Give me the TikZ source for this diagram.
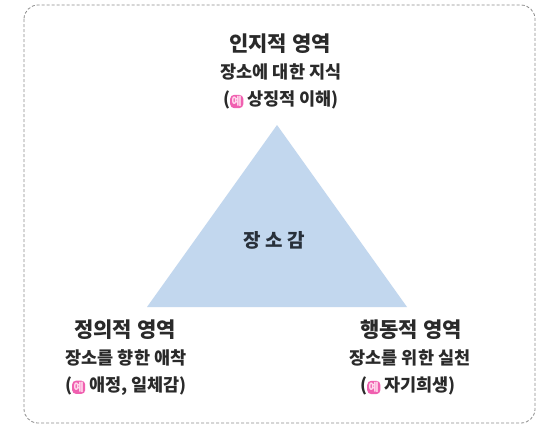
\documentclass[tikz,border=0pt]{standalone}
\usepackage{fontspec}
\setmainfont{Noto Sans CJK KR}
\definecolor{txt}{HTML}{2A2A2A}
\definecolor{coretxt}{HTML}{28303A}
\definecolor{tri}{HTML}{C2D7EE}
\definecolor{pinkb}{HTML}{F060B0}
\definecolor{pinkt}{HTML}{FFD8EC}
\definecolor{bord}{HTML}{8C8C8C}
\tikzset{
  title/.style={text=txt, font=\bfseries\fontsize{21}{23}\selectfont, inner sep=0pt},
  sub/.style={text=txt, font=\bfseries\fontsize{17.5}{19}\selectfont, inner sep=0pt},
  center/.style={text=coretxt, font=\bfseries\fontsize{19}{21}\selectfont, inner sep=0pt},
  badge/.style={fill=pinkb, text=pinkt, rounded corners=4pt, inner sep=1.5pt, font=\bfseries\fontsize{11}{12}\selectfont}
}
\newcommand{\yebadge}{\tikz[baseline=(yb.base)]\node[badge](yb){예};}
\begin{document}
\begin{tikzpicture}[x=1pt,y=-1pt]
\useasboundingbox (0,0) rectangle (543,429);
\fill[white] (0,0) rectangle (543,429);
\draw[bord, line width=0.8pt, dash pattern=on 3pt off 2pt, rounded corners=14pt] (24,5) rectangle (535,423);
\coordinate (apex) at (277,125);
\coordinate (bl) at (147,307);
\coordinate (br) at (407,307);
\fill[tri] (apex) -- (bl) -- (br) -- cycle;
\node[center] (core) at (274,240) {장 소 감};
\node[title] (cogT) at (280,44) {인지적 영역};
\node[sub] (cogS) at (281,72) {장소에 대한 지식};
\node[sub] (cogE) at (281,100) {(\yebadge\ 상징적 이해)};
\node[title] (affT) at (125,330) {정의적 영역};
\node[sub] (affS) at (126,358) {장소를 향한 애착};
\node[sub] (affE) at (126,386) {(\yebadge\ 애정, 일체감)};
\node[title] (behT) at (411,330) {행동적 영역};
\node[sub] (behS) at (410,358) {장소를 위한 실천};
\node[sub] (behE) at (408,386) {(\yebadge\ 자기희생)};
\end{tikzpicture}
\end{document}
